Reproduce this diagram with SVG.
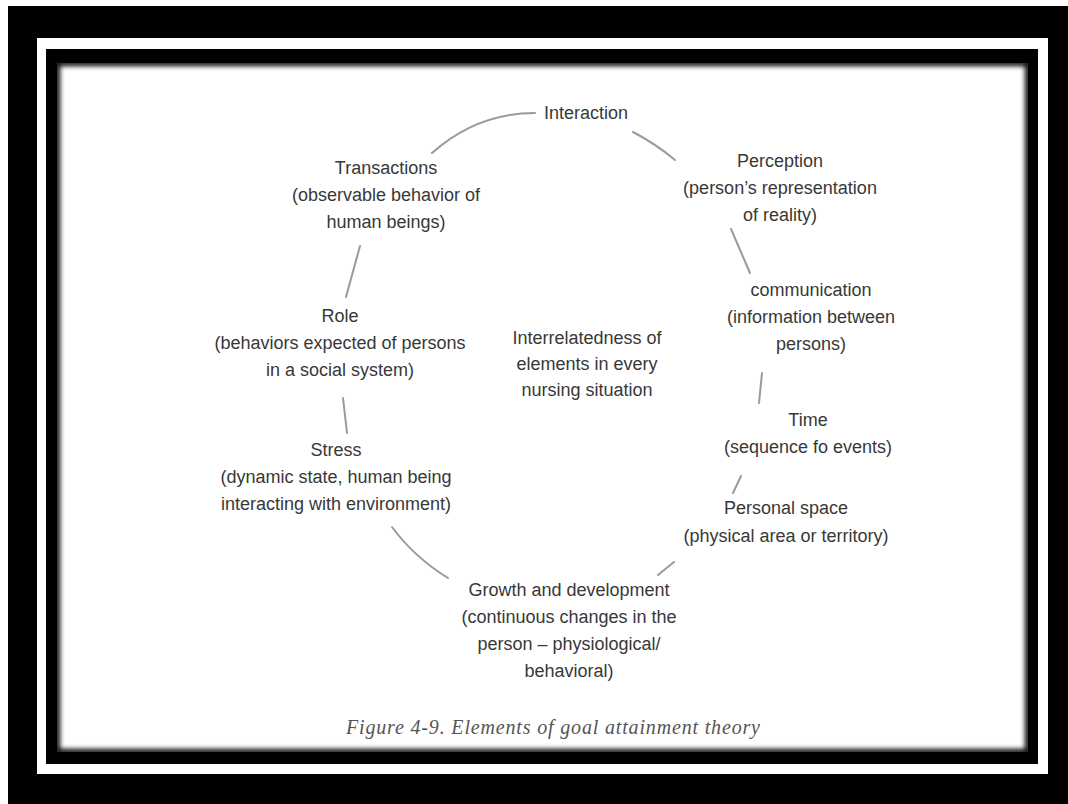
<svg xmlns="http://www.w3.org/2000/svg" width="1068" height="804" viewBox="0 0 1068 804">
<defs>
<style>
.t{font-family:"Liberation Sans",Arial,sans-serif;font-size:18px;fill:#383838;text-anchor:middle}
.c{fill:none;stroke:#9a9a9a;stroke-width:2;stroke-linecap:round}
.cap{font-family:"Liberation Serif","Times New Roman",serif;font-style:italic;font-size:20px;fill:#555;text-anchor:middle}
</style>
<clipPath id="inner"><rect x="57" y="63" width="971" height="689"/></clipPath>
<filter id="blur" x="-5%" y="-5%" width="110%" height="110%"><feGaussianBlur stdDeviation="2.5"/></filter>
</defs>
<rect x="0" y="0" width="1068" height="804" fill="#fff"/>
<rect x="8" y="6" width="1060" height="798" fill="#000"/>
<rect x="37" y="38" width="1011" height="736" fill="#fff"/>
<rect x="46" y="49" width="992" height="715" fill="#000"/>
<rect x="57" y="63" width="971" height="689" fill="#fff"/>
<g clip-path="url(#inner)">
<rect x="57" y="63" width="971" height="689" fill="none" stroke="#000" stroke-width="6" filter="url(#blur)"/>
</g>
<g id="connectors">
<path class="c" d="M432,153 Q477,113 535,113"/>
<path class="c" d="M633,132 Q656,144 675,160"/>
<path class="c" d="M731,229 L750,273"/>
<path class="c" d="M762,373 L759,403"/>
<path class="c" d="M741,476 L733,493"/>
<path class="c" d="M674,562 L658,575"/>
<path class="c" d="M392,527 Q414,557 448,578"/>
<path class="c" d="M343,398 L347,433"/>
<path class="c" d="M360,246 L346,297"/>
</g>
<g id="interaction"><text class="t" x="586" y="119">Interaction</text></g>
<g id="transactions"><text class="t" x="386" y="174">Transactions</text><text class="t" x="386" y="201">(observable behavior of</text><text class="t" x="386" y="228">human beings)</text></g>
<g id="perception"><text class="t" x="780" y="167">Perception</text><text class="t" x="780" y="194">(person’s representation</text><text class="t" x="780" y="221">of reality)</text></g>
<g id="communication"><text class="t" x="811" y="296">communication</text><text class="t" x="811" y="323">(information between</text><text class="t" x="811" y="350">persons)</text></g>
<g id="time"><text class="t" x="808" y="426">Time</text><text class="t" x="808" y="453">(sequence fo events)</text></g>
<g id="personal-space"><text class="t" x="786" y="514">Personal space</text><text class="t" x="786" y="542">(physical area or territory)</text></g>
<g id="growth"><text class="t" x="569" y="596">Growth and development</text><text class="t" x="569" y="623">(continuous changes in the</text><text class="t" x="569" y="650">person – physiological/</text><text class="t" x="569" y="677">behavioral)</text></g>
<g id="stress"><text class="t" x="336" y="456">Stress</text><text class="t" x="336" y="483">(dynamic state, human being</text><text class="t" x="336" y="510">interacting with environment)</text></g>
<g id="role"><text class="t" x="340" y="322">Role</text><text class="t" x="340" y="349">(behaviors expected of persons</text><text class="t" x="340" y="376">in a social system)</text></g>
<g id="center"><text class="t" x="587" y="344">Interrelatedness of</text><text class="t" x="587" y="370">elements in every</text><text class="t" x="587" y="396">nursing situation</text></g>
<g id="caption"><text class="cap" x="553" y="734" textLength="414" lengthAdjust="spacing">Figure 4-9. Elements of goal attainment theory</text></g>
</svg>
